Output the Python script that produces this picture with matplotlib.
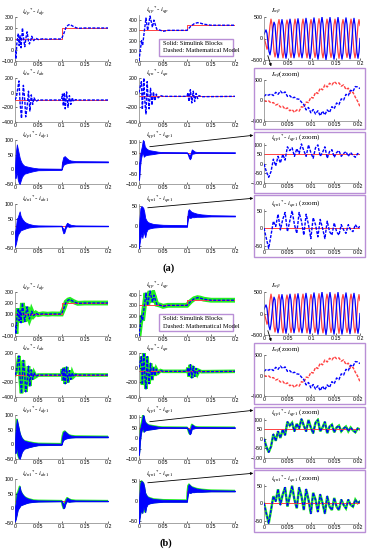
import numpy as np
import matplotlib
matplotlib.use('Agg')
import matplotlib.pyplot as plt
from matplotlib.patches import Rectangle, FancyArrowPatch

plt.rcParams.update({
    "font.family": "Liberation Sans",
    "mathtext.fontset": "stix",
    "xtick.labelsize": 3.8,
    "ytick.labelsize": 3.8,
    "xtick.direction": "in",
    "ytick.direction": "in",
    "xtick.major.size": 1.5,
    "ytick.major.size": 1.5,
    "xtick.major.width": 0.4,
    "ytick.major.width": 0.4,
    "xtick.major.pad": 1.0,
    "ytick.major.pad": 1.0,
    "axes.linewidth": 0.5,
    "axes.edgecolor": "#808080",
    "axes.spines.top": False,
    "axes.spines.right": False,
})

# ---------------- data ----------------
# idp* - idp
idp_t = [0, 0.002, 0.004, 0.007, 0.009, 0.011, 0.013, 0.016, 0.019, 0.021, 0.024, 0.026,
         0.029, 0.031, 0.034, 0.036, 0.040, 0.045, 0.050, 0.060, 0.070, 0.080, 0.090, 0.100,
         0.105, 0.110, 0.115, 0.118, 0.125, 0.130, 0.135, 0.140, 0.150, 0.200]
idp_v = [0, -80, 60, 150, 40, 130, 20, 200, 90, 30, 120, 165,
         80, 55, 90, 125, 85, 108, 95, 102, 98, 101, 100, 100,
         150, 210, 228, 232, 215, 205, 197, 198, 200, 200]
idp_ref_t = [0, 0.1, 0.1, 0.2]
idp_ref = [100, 100, 200, 200]

# iqp* - iqp
iqp_t = [0, 0.003, 0.0055, 0.0075, 0.010, 0.0145, 0.018, 0.023, 0.028, 0.031, 0.037,
         0.045, 0.050, 0.060, 0.080, 0.100, 0.108, 0.115, 0.122, 0.128, 0.135, 0.150, 0.200]
iqp_v = [0, 120, 200, 150, 250, 420, 300, 440, 330, 400, 310,
         300, 290, 300, 300, 300, 340, 365, 375, 370, 360, 350, 350]
iqp_ref_t = [0, 0.1, 0.1, 0.2]
iqp_ref = [300, 300, 350, 350]

# idn* - idn
idn_t = [0, 0.003, 0.006, 0.0085, 0.011, 0.014, 0.016, 0.018, 0.021, 0.023, 0.026, 0.029,
         0.032, 0.035, 0.038, 0.041, 0.045, 0.050, 0.100, 0.102, 0.104, 0.106, 0.108,
         0.111, 0.114, 0.117, 0.120, 0.123, 0.126, 0.130, 0.135, 0.200]
idn_v = [-100, -60, 60, 160, -150, -350, -100, 100, -100, -330, -200, 20,
         -250, -30, -160, -70, -120, -100, -100, -20, -180, 0, -220,
         10, -200, -40, -160, -70, -120, -95, -100, -100]
idn_ref_t = [0, 0.2]
idn_ref = [-100, -100]

# iqn* - iqn
iqn_t = [0, 0.003, 0.005, 0.007, 0.010, 0.0125, 0.0145, 0.017, 0.019, 0.021, 0.024,
         0.027, 0.030, 0.033, 0.036, 0.040, 0.045, 0.050, 0.100, 0.102, 0.104, 0.107,
         0.110, 0.113, 0.116, 0.119, 0.122, 0.125, 0.130, 0.200]
iqn_v = [0, 100, 150, -230, 200, -150, -290, 150, -80, -220, 60,
         -170, 10, -110, -20, -70, -40, -50, -50, 0, -120, 40,
         -140, 20, -120, -10, -80, -40, -55, -50]
iqn_ref_t = [0, 0.2]
iqn_ref = [-50, -50]

# dense (Simulink) bands: time, upper edge, lower edge
idp1_t = [0, 0.001, 0.002, 0.004, 0.006, 0.008, 0.010, 0.012, 0.015, 0.020, 0.030, 0.040,
          0.050, 0.0999, 0.1005, 0.102, 0.104, 0.107, 0.110, 0.115, 0.120, 0.130, 0.200]
idp1_hi = [5, 40, 60, 85, 70, 55, 40, 30, 20, 12, 8, 5,
           3, 2, 15, 30, 42, 45, 40, 33, 30, 28, 27]
idp1_lo = [-5, -30, -20, -10, -35, -45, -50, -40, -25, -15, -10, -6,
           -3, -2, 0, 8, 15, 18, 20, 22, 23, 24, 24]
idp1_ref_t = [0, 0.1, 0.1, 0.2]
idp1_ref = [0, 0, 25, 25]

iqp1_t = [0, 0.001, 0.002, 0.004, 0.006, 0.008, 0.010, 0.012, 0.015, 0.020, 0.030, 0.040,
          0.050, 0.100, 0.102, 0.104, 0.106, 0.108, 0.110, 0.113, 0.116, 0.120, 0.125, 0.200]
iqp1_hi = [0, 10, 40, 60, 80, 110, 105, 80, 70, 62, 58, 54,
           52, 51, 45, 40, 35, 50, 65, 60, 55, 53, 52, 51]
iqp1_lo = [-80, -60, -20, 20, 40, 50, 30, 35, 38, 40, 43, 47,
           49, 49, 40, 25, 18, 25, 45, 45, 47, 48, 49, 49]
iqp1_ref_t = [0, 0.2]
iqp1_ref = [50, 50]

idn1_t = [0, 0.002, 0.004, 0.006, 0.008, 0.010, 0.012, 0.015, 0.020, 0.025, 0.030, 0.040,
          0.050, 0.100, 0.102, 0.104, 0.106, 0.109, 0.112, 0.116, 0.120, 0.130, 0.200]
idn1_hi = [5, 20, 50, 55, 65, 75, 60, 50, 40, 35, 32, 28,
           27, 26, 20, 15, 15, 28, 36, 32, 29, 27, 26]
idn1_lo = [-45, -35, -20, -5, 0, 5, 10, 12, 15, 18, 20, 22,
           23, 24, 10, 0, 2, 18, 25, 22, 23, 24, 24]
idn1_ref_t = [0, 0.2]
idn1_ref = [25, 25]

iqn1_t = [0, 0.001, 0.003, 0.005, 0.007, 0.009, 0.011, 0.013, 0.015, 0.018, 0.022, 0.030,
          0.040, 0.050, 0.100, 0.1005, 0.102, 0.104, 0.107, 0.110, 0.115, 0.120, 0.130,
          0.150, 0.200]
iqn1_hi = [0, 20, 45, 50, 48, 45, 35, 20, 15, 10, 8, 5,
           4, 3, 2, 20, 38, 42, 38, 35, 33, 31, 29, 27, 26]
iqn1_lo = [-55, -45, -30, -20, -30, -15, -20, -28, -15, -8, -6, -4,
           -3, -2, -2, 5, 18, 22, 20, 22, 22, 23, 23, 24, 24]
iqn1_ref_t = [0, 0.1, 0.1, 0.2]
iqn1_ref = [0, 0, 25, 25]

# I_alpha_beta over 0..0.2 s (97 samples)
iab_t = np.linspace(0, 0.2, 97)
ia_red = [0, -60, -150, -250, -180, 50, 300, 450, 330, 0, -300, -430, -320, 20, 330, 440,
          300, -20, -330, -450, -300, 0, 320, 430, 320, 10, -310, -440, -330, 0, 300, 450,
          330, -10, -320, -430, -320, 10, 330, 450, 310, 0, -320, -450, -310, 10, 320, 440,
          330, -10, -300, -440, -320, 0, 330, 460, 320, 10, -330, -450, -300, 0, 320, 450,
          330, -10, -310, -440, -330, 10, 320, 450, 320, 0, -320, -460, -310, 10, 330, 440,
          320, -10, -320, -440, -320, 0, 310, 450, 330, 0, -310, -450, -330, 10, 320, 440, 300]
ib_blue = [100, 150, 200, 120, -100, -300, -380, -250, 0, 250, 380, 320, 0, -320, -450, -330,
           0, 320, 440, 310, -10, -330, -460, -320, 10, 330, 450, 320, 0, -310, -450, -330,
           0, 330, 460, 320, -10, -320, -450, -320, 0, 330, 470, 330, 0, -330, -470, -330,
           10, 340, 480, 330, 0, -340, -480, -330, 0, 350, 500, 340, 0, -340, -490, -340,
           10, 350, 490, 340, -10, -340, -480, -330, 0, 340, 490, 340, 0, -340, -480, -340,
           10, 350, 480, 330, 0, -330, -470, -330, 0, 330, 470, 320, -10, -330, -460, -320, 0]

# zoomed windows 0..0.0205 s (42 samples)
zoom_t = np.linspace(0, 0.0205, 42)
za_red = [0, -20, -10, -60, -50, -110, -90, -160, -140, -210, -180, -250, -220, -290,
          -230, -260, -150, -170, -40, -50, 80, 60, 200, 170, 300, 260, 380, 330,
          420, 380, 460, 410, 430, 350, 380, 270, 300, 180, 200, 80, -20, -150]
zb_blue = [100, 150, 130, 160, 120, 200, 150, 230, 170, 210, 100, 120, 60, 80,
           40, 30, -40, -100, -230, -170, -300, -220, -330, -250, -370, -260, -350, -230,
           -290, -150, -200, -60, -100, 40, 10, 150, 120, 250, 220, 340, 330, 290]
ziqp1 = [0, -40, -70, -40, 25, -10, 40, 5, 50, 20, 90, 70, 85, 40,
         80, 55, 105, 70, 40, 100, 60, 30, 85, 100, 40, 60, 90, 30,
         65, 75, 35, 60, 70, 40, 55, 65, 40, 60, 45, 35, 55, 50]
ziqn1 = [0, -30, -58, -20, 20, 5, 40, -5, 25, 45, -10, 20, 50, 10,
         -15, 45, 20, -20, 40, 10, -30, 30, 10, -25, 25, 0, -30, 20,
         -10, -20, 15, -10, -20, 10, -5, -15, 10, -5, -10, 10, 0, 5]
zoom_iqp1_ref = [50, 50]
zoom_iqn1_ref = [0, 0]
zoom_ref_t = [0, 0.0205]

main_ticks = [0, 0.05, 0.1, 0.15, 0.2]
main_ticklabels = ['0', '0.05', '0.1', '0.15', '0.2']
zoom_ticks = [0, 0.005, 0.01, 0.015, 0.02]
zoom_ticklabels = ['0', '0.005', '0.01', '0.015', '0.02']

# ---------------- drawing ----------------
W, H = 371, 550
fig = plt.figure(figsize=(W / 100, H / 100), dpi=100)
fig.patch.set_facecolor('white')

RED = '#ff4040'
BLUE = '#0000ff'
GREEN = '#22ee22'
PURPLE = '#b98fd6'
DASH = (0, (2.2, 1.0))


def px_axes(l, t, r, b):
    return fig.add_axes([l / W, 1 - b / H, (r - l) / W, (b - t) / H])


def style(ax, ylim, yticks, zoom=False):
    ax.set_ylim(*ylim)
    ax.set_yticks(yticks)
    if zoom:
        ax.set_xlim(0, 0.0205)
        ax.set_xticks(zoom_ticks)
        ax.set_xticklabels(zoom_ticklabels)
    else:
        ax.set_xlim(0, 0.2)
        ax.set_xticks(main_ticks)
        ax.set_xticklabels(main_ticklabels)
    ax.patch.set_alpha(0)


def title(ax, s):
    # title sits just above the axes top, centred ~5 px above it
    ax.annotate(s, xy=(0.07, 1.0), xycoords='axes fraction', xytext=(0, 3.6),
                textcoords='offset points', fontsize=5.0, va='center', ha='left',
                family='Liberation Serif')


def line_plot(ax, t, v, rt, rv, green, gw):
    if green:
        ax.plot(t, v, color=GREEN, lw=gw, solid_joinstyle='miter', zorder=1)
    ax.plot(rt, rv, color=RED, lw=0.7, zorder=2)
    ax.plot(t, v, color=BLUE, lw=1.0, ls=DASH, zorder=3)


def band_plot(ax, t, hi, lo, rt, rv, green):
    if green:
        ax.plot(t, hi, color=GREEN, lw=1.2, zorder=1)
        ax.plot(t, lo, color=GREEN, lw=1.2, zorder=1)
    ax.plot(rt, rv, color=RED, lw=0.7, zorder=2)
    ax.fill_between(t, lo, hi, color=BLUE, lw=0.6, zorder=3)


def frame(l, t, r, b):
    fig.add_artist(Rectangle((l / W, 1 - b / H), (r - l) / W, (b - t) / H,
                             transform=fig.transFigure, fill=False,
                             edgecolor=PURPLE, lw=1.0))


def arrow(x0, y0, x1, y1):
    fig.add_artist(FancyArrowPatch((x0 / W, 1 - y0 / H), (x1 / W, 1 - y1 / H),
                                   transform=fig.transFigure, arrowstyle='-|>',
                                   mutation_scale=3.5, lw=0.6, color='black'))


def lab(a, b):
    return r'$i_{%s}{}^{*}$- $i_{%s}$' % (a, b)


def panel(dy, green):
    c1 = (15, 108)
    c2 = (139, 235)
    rows = [(17, 61), (78, 122), (140, 184), (204, 248)]

    ax = px_axes(c1[0], rows[0][0] + dy, c1[1], rows[0][1] + dy)
    line_plot(ax, idp_t, idp_v, idp_ref_t, idp_ref, green, 3.5)
    style(ax, (-100, 300), [-100, 0, 100, 200, 300])
    title(ax, lab('dp', 'dp'))

    ax = px_axes(c2[0], 15 + dy, c2[1], rows[0][1] + dy)
    line_plot(ax, iqp_t, iqp_v, iqp_ref_t, iqp_ref, green, 3.5)
    style(ax, (0, 450), [0, 100, 200, 300, 400])
    title(ax, lab('qp', 'qp'))

    ax = px_axes(c1[0], rows[1][0] + dy, c1[1], rows[1][1] + dy)
    line_plot(ax, idn_t, idn_v, idn_ref_t, idn_ref, green, 2.6)
    style(ax, (-400, 200), [-400, -200, 0, 200])
    title(ax, lab('dn', 'dn'))

    ax = px_axes(c2[0], rows[1][0] + dy, c2[1], rows[1][1] + dy)
    line_plot(ax, iqn_t, iqn_v, iqn_ref_t, iqn_ref, green, 2.6)
    style(ax, (-400, 200), [-400, -200, 0, 200])
    title(ax, lab('qn', 'qn'))

    ax = px_axes(c1[0], rows[2][0] + dy, c1[1], rows[2][1] + dy)
    band_plot(ax, idp1_t, idp1_hi, idp1_lo, idp1_ref_t, idp1_ref, green)
    style(ax, (-50, 100), [-50, 0, 50, 100])
    title(ax, lab('dp1', 'dp1'))

    ax = px_axes(c2[0], rows[2][0] + dy, c2[1], rows[2][1] + dy)
    band_plot(ax, iqp1_t, iqp1_hi, iqp1_lo, iqp1_ref_t, iqp1_ref, green)
    style(ax, (-100, 110), [-100, -50, 0, 50, 100])
    title(ax, lab('qp1', 'qp1'))

    ax = px_axes(c1[0], rows[3][0] + dy, c1[1], rows[3][1] + dy)
    band_plot(ax, idn1_t, idn1_hi, idn1_lo, idn1_ref_t, idn1_ref, green)
    style(ax, (-50, 100), [-50, 0, 50, 100])
    title(ax, lab('dn1', 'dn1'))

    ax = px_axes(c2[0], rows[3][0] + dy, c2[1], rows[3][1] + dy)
    band_plot(ax, iqn1_t, iqn1_hi, iqn1_lo, iqn1_ref_t, iqn1_ref, green)
    style(ax, (-55, 55), [-50, 0, 50])
    title(ax, lab('qn1', 'qn1'))

    # right column
    ax = px_axes(264, 17 + dy, 360, 60 + dy)
    ax.plot(iab_t, ia_red, color=RED, lw=0.9)
    ax.plot(iab_t, ib_blue, color=BLUE, lw=0.9)
    style(ax, (-500, 500), [-500, 0, 500])
    title(ax, r'$I_{\alpha\beta}$')

    boxes = [(68, 129), (132, 193), (195, 257)]
    axes_y = [(80, 121), (143, 183), (209, 249)]
    for (bt, bb) in boxes:
        frame(254, bt + dy, 365, bb + dy)

    ax = px_axes(264, axes_y[0][0] + dy, 360, axes_y[0][1] + dy)
    ax.plot(zoom_t, za_red, color=RED, lw=1.0, ls=DASH)
    ax.plot(zoom_t, zb_blue, color=BLUE, lw=1.0, ls=DASH)
    style(ax, (-500, 500), [-500, 0, 500], zoom=True)
    title(ax, r'$I_{\alpha\beta}$(zoom)')

    ax = px_axes(264, axes_y[1][0] + dy, 360, axes_y[1][1] + dy)
    line_plot(ax, zoom_t, ziqp1, zoom_ref_t, zoom_iqp1_ref, green, 1.8)
    style(ax, (-100, 110), [-100, -50, 0, 50, 100], zoom=True)
    title(ax, lab('qp1', 'qp1') + ' (zoom)')

    ax = px_axes(264, axes_y[2][0] + dy, 360, axes_y[2][1] + dy)
    line_plot(ax, zoom_t, ziqn1, zoom_ref_t, zoom_iqn1_ref, green, 1.8)
    style(ax, (-60, 55), [-50, 0, 50], zoom=True)
    title(ax, lab('qn1', 'qn1') + ' (zoom)')

    # legend box
    frame(159, 39 + dy, 233, 56 + dy)
    fig.text(163 / W, 1 - (43.5 + dy) / H, 'Solid: Simulink Blocks', fontsize=4.6,
             family='Liberation Serif', va='center')
    fig.text(163 / W, 1 - (51 + dy) / H, 'Dashed: Mathematical Model', fontsize=4.6,
             family='Liberation Serif', va='center')

    # connectors
    arrow(267, 53 + dy, 272, 69 + dy)
    arrow(147, 147 + dy, 256, 135 + dy)
    arrow(145, 208 + dy, 256, 198 + dy)


panel(0, False)
panel(275, True)

fig.text(169 / W, 1 - 268 / H, '(a)', fontsize=7.5, fontweight='bold',
         family='Liberation Serif', ha='center', va='center')
fig.text(166 / W, 1 - 543 / H, '(b)', fontsize=7.5, fontweight='bold',
         family='Liberation Serif', ha='center', va='center')

fig.savefig('out.png', dpi=100, facecolor='white')
